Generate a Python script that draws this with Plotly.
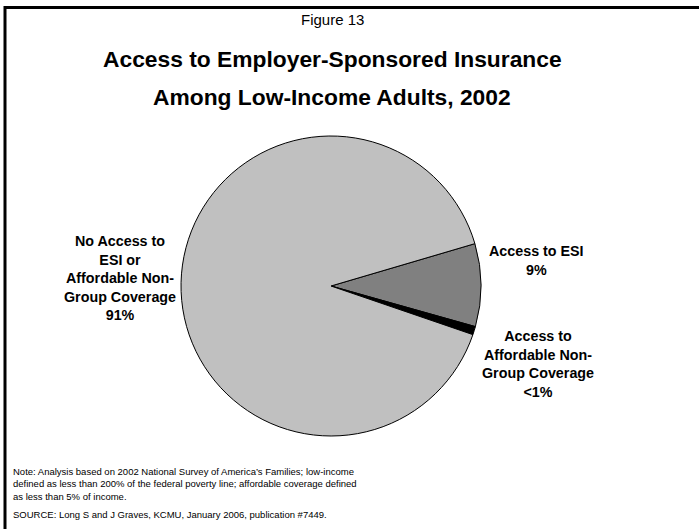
import plotly.graph_objects as go

# Slice data
categories = [
    "Access to ESI",
    "Access to Affordable Non-Group Coverage",
    "No Access to ESI or Affordable Non-Group Coverage",
]
shares = [9, 0.9, 91]
share_labels = ["9%", "<1%", "91%"]
slice_colors = ["#808080", "#000000", "#C0C0C0"]

label_lines = [
    "Access to ESI",
    "Access to<br>Affordable Non-<br>Group Coverage",
    "No Access to<br>ESI or<br>Affordable Non-<br>Group Coverage",
]

W, H = 699, 529
FONT = "Arial, Liberation Sans, sans-serif"


def px(x):
    return x / W


def py(y):
    return 1 - y / H


fig = go.Figure(
    go.Pie(
        labels=categories,
        values=shares,
        sort=False,
        direction="clockwise",
        rotation=73.6,
        marker=dict(colors=slice_colors, line=dict(color="#000000", width=1)),
        textinfo="none",
        hoverinfo="label+percent",
        showlegend=False,
        domain=dict(x=[px(181), px(481)], y=[py(436), py(136)]),
    )
)

annotations = [
    dict(x=px(332), y=py(19), text="Figure 13",
         font=dict(family=FONT, size=15, color="#000000")),
    dict(x=px(332), y=py(59), text="<b>Access to Employer-Sponsored Insurance</b>",
         font=dict(family=FONT, size=22.8, color="#000000")),
    dict(x=px(332), y=py(97), text="<b>Among Low-Income Adults, 2002</b>",
         font=dict(family=FONT, size=22.8, color="#000000")),
    # slice labels
    dict(x=px(536), y=py(260), text="<b>%s<br>%s</b>" % (label_lines[0], share_labels[0])),
    dict(x=px(538), y=py(364), text="<b>%s<br>%s</b>" % (label_lines[1], share_labels[1])),
    dict(x=px(120), y=py(278), text="<b>%s<br>%s</b>" % (label_lines[2], share_labels[2])),
    # notes
    dict(x=px(11), y=py(484), xanchor="left", align="left",
         text=("Note: Analysis based on 2002 National Survey of America\u2019s Families; low-income<br>"
               "defined as less than 200% of the federal poverty line; affordable coverage defined<br>"
               "as less than 5% of income."),
         font=dict(family=FONT, size=9.5, color="#000000")),
    dict(x=px(11), y=py(514), xanchor="left", align="left",
         text="SOURCE: Long S and J Graves, KCMU, January 2006, publication #7449.",
         font=dict(family=FONT, size=9.5, color="#000000")),
]
for a in annotations:
    a.setdefault("xref", "paper")
    a.setdefault("yref", "paper")
    a.setdefault("xanchor", "center")
    a.setdefault("yanchor", "middle")
    a.setdefault("align", "center")
    a.setdefault("showarrow", False)
    a.setdefault("font", dict(family=FONT, size=14.3, color="#000000"))

shapes = [
    dict(type="line", xref="paper", yref="paper",
         x0=px(4), x1=1, y0=py(7.5), y1=py(7.5), line=dict(color="#000000", width=3)),
    dict(type="line", xref="paper", yref="paper",
         x0=px(5), x1=px(5), y0=0, y1=py(6), line=dict(color="#000000", width=3)),
]

fig.update_layout(
    width=W, height=H,
    margin=dict(l=0, r=0, t=0, b=0),
    paper_bgcolor="#FFFFFF",
    plot_bgcolor="#FFFFFF",
    annotations=annotations,
    shapes=shapes,
)

fig.write_html("out.html")
